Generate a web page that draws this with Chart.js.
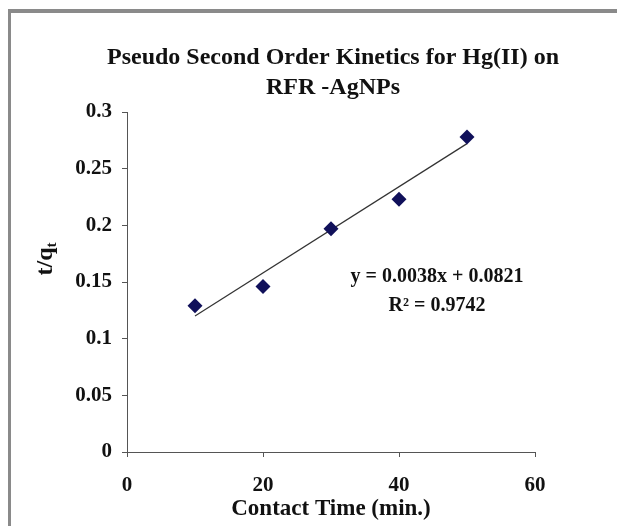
<!DOCTYPE html>
<html>
<head>
<meta charset="utf-8">
<script src="https://cdn.jsdelivr.net/npm/chart.js@4.4.1/dist/chart.umd.min.js"></script>
<style>
  body { margin: 0; background: #fff; }
  #frame { position: absolute; left: 8px; top: 9px; width: 620px; height: 530px;
           border-top: 4px solid #8a8a8a; border-left: 3px solid #8a8a8a; }
  #wrap { position: absolute; left: 0; top: 0; width: 617px; height: 526px; }
</style>
</head>
<body>
<div id="frame"></div>
<div id="wrap"><canvas id="graficoCinetica" width="617" height="526"></canvas></div>
<script>
// datos
const tiempos = [10, 20, 30, 40, 50];
const tSobreQ = [0.129, 0.146, 0.197, 0.223, 0.278];
// extremos de la linea de tendencia (y = 0.0038x + 0.0821)
const tendenciaX = [10, 50];
const tendenciaY = [0.1201, 0.2721];
const ticksX = [0, 20, 40, 60];
const ticksY = [0, 0.05, 0.1, 0.15, 0.2, 0.25, 0.3];
const titulo = ['Pseudo Second Order Kinetics for Hg(II) on', 'RFR -AgNPs'];
const ecuacion = ['y = 0.0038x + 0.0821', 'R\u00b2 = 0.9742'];

const fuente = 'Liberation Serif';

// titulo (centrado sobre el area del grafico), ecuacion y titulo del eje y
const textosExtra = {
  id: 'textosExtra',
  afterDraw(chart) {
    const ctx = chart.ctx;
    const area = chart.chartArea;
    ctx.save();
    ctx.fillStyle = '#111';
    ctx.textAlign = 'center';
    ctx.textBaseline = 'middle';

    ctx.font = 'bold 24px "' + fuente + '"';
    const cx = (area.left + area.right) / 2 + 2;
    ctx.fillText(titulo[0], cx, 58);
    ctx.fillText(titulo[1], cx, 88);

    ctx.font = 'bold 20px "' + fuente + '"';
    ctx.fillText(ecuacion[0], 437, 277);
    ctx.fillText(ecuacion[1], 437, 306);

    // t/q con subindice t, girado
    ctx.translate(44, 259);
    ctx.rotate(-Math.PI / 2);
    const base = 't/q';
    ctx.font = 'bold 24px "' + fuente + '"';
    const w1 = ctx.measureText(base).width;
    ctx.font = 'bold 15px "' + fuente + '"';
    const w2 = ctx.measureText('t').width;
    const x0 = -(w1 + w2) / 2;
    ctx.textAlign = 'left';
    ctx.textBaseline = 'alphabetic';
    ctx.font = 'bold 24px "' + fuente + '"';
    ctx.fillText(base, x0, 8);
    ctx.font = 'bold 15px "' + fuente + '"';
    ctx.fillText('t', x0 + w1, 12);
    ctx.restore();
  }
};

function crearGraficoCinetica() {
  const ctx = document.getElementById('graficoCinetica').getContext('2d');
  new Chart(ctx, {
    type: 'scatter',
    data: {
      datasets: [
        {
          label: 't/qt',
          data: tiempos.map((t, i) => ({ x: t, y: tSobreQ[i] })),
          pointStyle: 'rectRot',
          pointRadius: 7.5,
          backgroundColor: '#10105a',
          borderColor: '#10105a',
          borderWidth: 0,
          order: 1
        },
        {
          type: 'line',
          label: 'Lineal',
          data: tendenciaX.map((t, i) => ({ x: t, y: tendenciaY[i] })),
          borderColor: '#333',
          borderWidth: 1.2,
          pointRadius: 0,
          fill: false,
          order: 2
        }
      ]
    },
    options: {
      responsive: false,
      animation: false,
      layout: { padding: { left: 0, right: 82, top: 112, bottom: 0 } },
      plugins: {
        legend: { display: false },
        tooltip: { enabled: false },
        title: { display: false }
      },
      scales: {
        x: {
          type: 'linear',
          min: 0, max: 60,
          afterBuildTicks: s => { s.ticks = ticksX.map(v => ({ value: v })); },
          afterFit: s => { s.height = 74; },
          border: { color: '#555', width: 1 },
          grid: { drawOnChartArea: false, tickLength: 5, tickColor: '#555' },
          ticks: { color: '#111', padding: 16, font: { family: fuente, size: 21, weight: 'bold' } },
          title: {
            display: true,
            text: 'Contact Time (min.)',
            color: '#111',
            font: { family: fuente, size: 23, weight: 'bold', lineHeight: 1.2 },
            padding: { top: 0, bottom: 3 }
          }
        },
        y: {
          min: 0, max: 0.3,
          afterBuildTicks: s => { s.ticks = ticksY.map(v => ({ value: v })); },
          afterFit: s => { s.width = 127; },
          border: { color: '#555', width: 1 },
          grid: { drawOnChartArea: false, tickLength: 5, tickColor: '#555' },
          ticks: {
            color: '#111', padding: 10,
            font: { family: fuente, size: 21, weight: 'bold' },
            callback: v => String(v)
          }
        }
      }
    },
    plugins: [textosExtra]
  });
}

crearGraficoCinetica();
</script>
</body>
</html>
